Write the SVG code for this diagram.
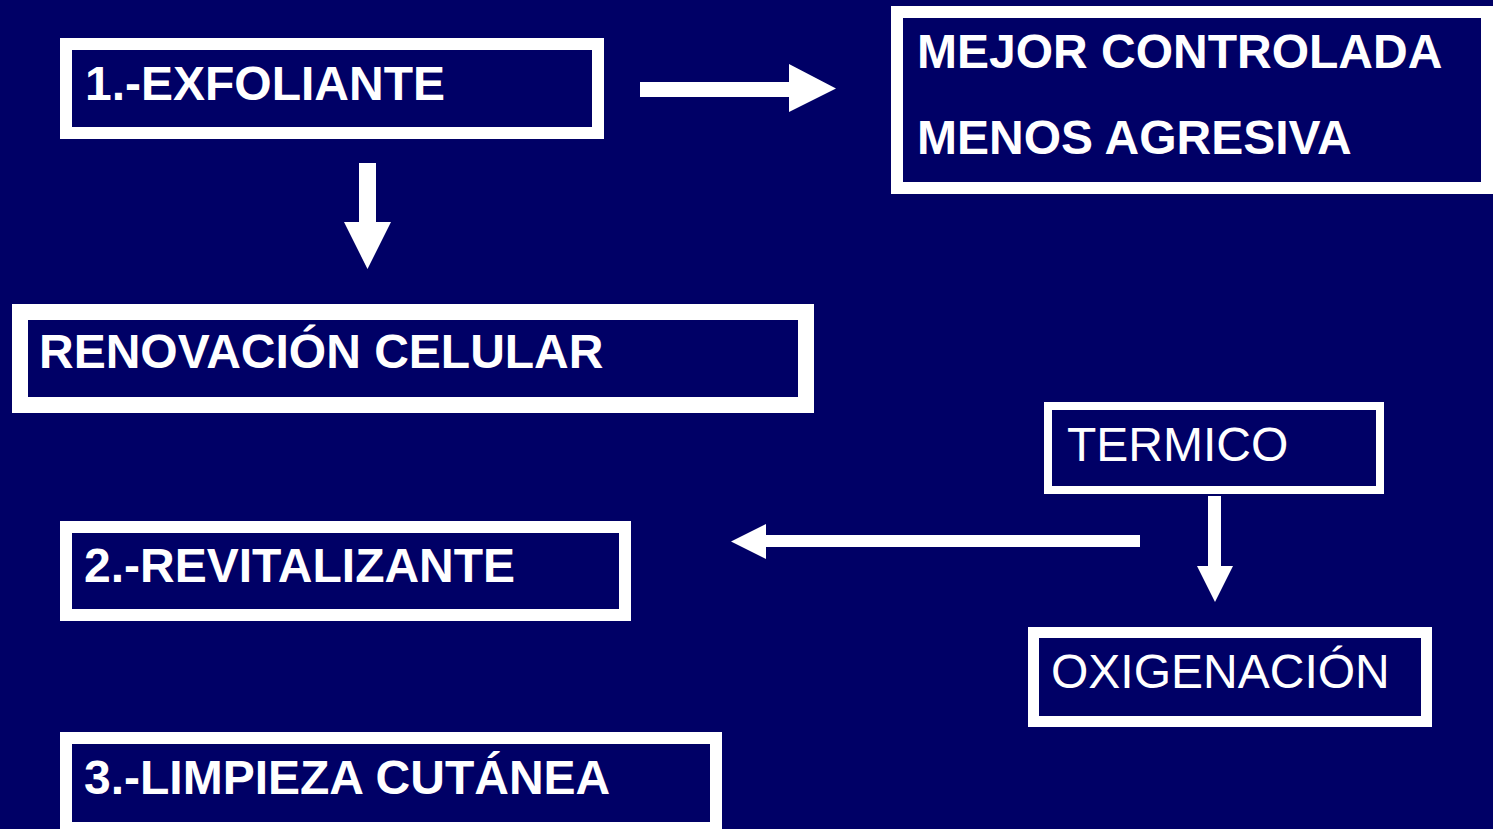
<svg xmlns="http://www.w3.org/2000/svg" width="1493" height="829" viewBox="0 0 1493 829">
<style>
.box{fill:#000066;stroke:#ffffff}
.t{font-family:"Liberation Sans",Arial,sans-serif;font-size:48px;fill:#ffffff}
.b{font-weight:bold}
.arrow{fill:#ffffff}
</style>
<rect x="0" y="0" width="1493" height="829" fill="#000066"/>
<g id="n1">
<rect class="box" x="66" y="44" width="532" height="89" stroke-width="12"/>
<text class="t b" x="85" y="100">1.-EXFOLIANTE</text>
</g>
<g id="n2">
<rect class="box" x="897" y="12" width="590" height="176" stroke-width="12"/>
<text class="t b" x="917" y="68">MEJOR CONTROLADA</text>
<text class="t b" x="917" y="154">MENOS AGRESIVA</text>
</g>
<g id="n3">
<rect class="box" x="20" y="312" width="786" height="93" stroke-width="16"/>
<text class="t b" x="39" y="368">RENOVACIÓN CELULAR</text>
</g>
<g id="n4">
<rect class="box" x="1048" y="406" width="332" height="84" stroke-width="8"/>
<text class="t" x="1067" y="461">TERMICO</text>
</g>
<g id="n5">
<rect class="box" x="1033.5" y="632.5" width="393" height="89" stroke-width="11"/>
<text class="t" x="1051" y="688">OXIGENACIÓN</text>
</g>
<g id="n6">
<rect class="box" x="66" y="527" width="559" height="88" stroke-width="12"/>
<text class="t b" x="84" y="582">2.-REVITALIZANTE</text>
</g>
<g id="n7">
<rect class="box" x="66" y="738" width="650" height="90" stroke-width="12"/>
<text class="t b" x="84" y="794">3.-LIMPIEZA CUTÁNEA</text>
</g>
<g id="connectors">
<polygon class="arrow" points="640,82 789,82 789,64 836,88.5 789,112 789,97 640,97"/>
<polygon class="arrow" points="359,163 376,163 376,222 391,222 367.5,269 344,222 359,222"/>
<polygon class="arrow" points="1208,496 1221,496 1221,566 1233,566 1215,602 1197,566 1208,566"/>
<polygon class="arrow" points="1140,535 766,535 766,524 731,541.5 766,559 766,547 1140,547"/>
</g>
</svg>
